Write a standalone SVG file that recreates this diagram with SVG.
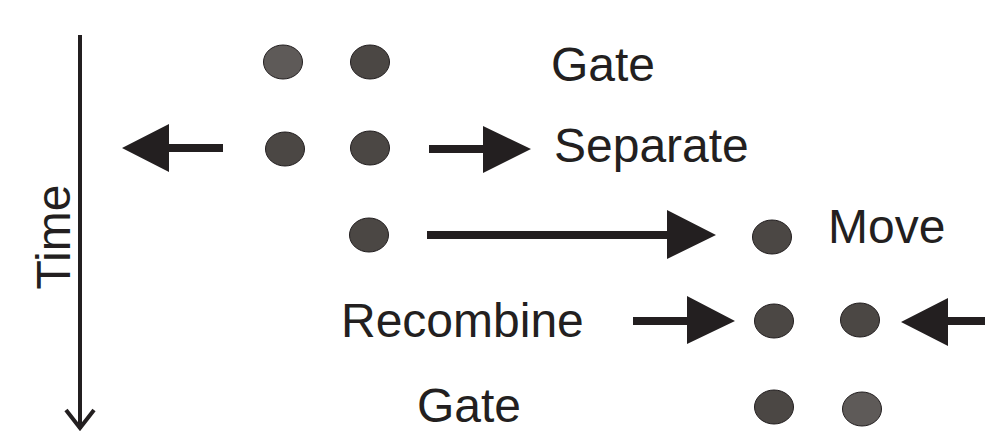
<svg xmlns="http://www.w3.org/2000/svg" width="985" height="431" viewBox="0 0 985 431">
<style>
  .lbl { font-family: "Liberation Sans", Arial, sans-serif; font-size: 48px; fill: #231f20; }
  .ion { stroke: #231f20; stroke-width: 1; }
  .d { fill: #4b4744; }
  .l { fill: #5e5a58; }
  .arr { fill: #231f20; }
</style>
<rect width="985" height="431" fill="#ffffff"/>
<g id="time-axis">
  <line x1="80" y1="35" x2="80" y2="429" stroke="#231f20" stroke-width="4"/>
  <polyline points="66,410 80,428 94,410" fill="none" stroke="#231f20" stroke-width="4"/>
  <text class="lbl" font-size="50" transform="translate(70,237) rotate(-90)" text-anchor="middle">Time</text>
</g>
<g id="row-gate1">
  <ellipse class="ion l" cx="283" cy="62" rx="19.5" ry="17"/>
  <ellipse class="ion d" cx="370" cy="62" rx="19.5" ry="17"/>
  <text class="lbl" x="551" y="81">Gate</text>
</g>
<g id="row-separate">
  <ellipse class="ion d" cx="285" cy="149" rx="19.5" ry="17"/>
  <ellipse class="ion d" cx="370" cy="148" rx="19.5" ry="17"/>
  <text class="lbl" x="554" y="162">Separate</text>
</g>
<g id="row-move">
  <ellipse class="ion d" cx="369" cy="235" rx="19.5" ry="17"/>
  <ellipse class="ion d" cx="772" cy="237" rx="19.5" ry="17"/>
  <text class="lbl" x="828" y="243">Move</text>
</g>
<g id="row-recombine">
  <text class="lbl" x="341" y="337">Recombine</text>
  <ellipse class="ion d" cx="774" cy="321" rx="19.5" ry="17"/>
  <ellipse class="ion d" cx="860" cy="320" rx="19.5" ry="17"/>
</g>
<g id="row-gate2">
  <text class="lbl" x="417" y="422">Gate</text>
  <ellipse class="ion d" cx="774" cy="407" rx="19.5" ry="17"/>
  <ellipse class="ion l" cx="862" cy="409" rx="19.5" ry="17"/>
</g>
<g id="connectors">
  <polygon class="arr" points="122,148 169,124 169,144 223,144 223,152 169,152 169,172"/>
  <polygon class="arr" points="531,149 483,126 483,145 429,145 429,153 483,153 483,173"/>
  <polygon class="arr" points="716,235 667,210 667,231 427,231 427,239 667,239 667,259"/>
  <polygon class="arr" points="735,321 687,296 687,317 633,317 633,325 687,325 687,344"/>
  <polygon class="arr" points="901,322 948,298 948,317 985,317 985,325 948,325 948,346"/>
</g>
</svg>
